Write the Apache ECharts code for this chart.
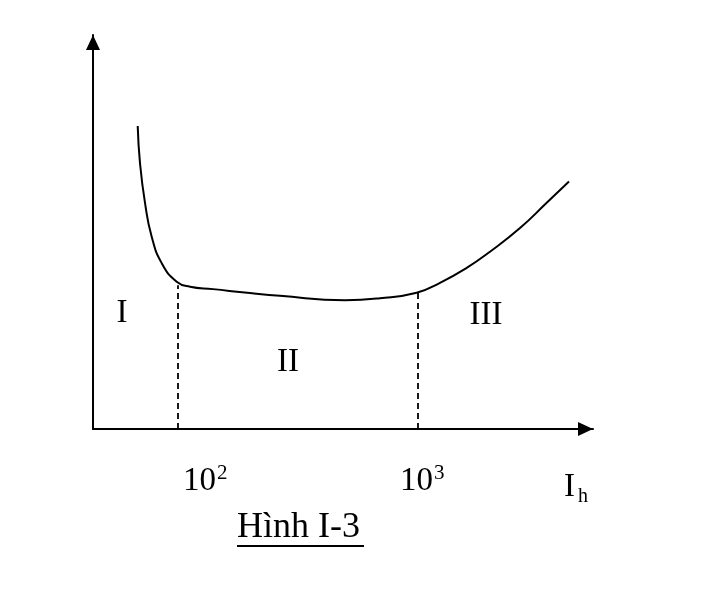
<!DOCTYPE html>
<html>
<head>
<meta charset="utf-8">
<script src="https://cdn.jsdelivr.net/npm/echarts@6/dist/echarts.min.js"></script>
<style>
  html, body { margin: 0; padding: 0; background: #fff; }
  #main { width: 705px; height: 591px; }
</style>
</head>
<body>
<div id="main"></div>
<script>
// curve (schematic units 0..100)
const curveX = [8.94, 9.40, 10.40, 11.74, 13.74, 16.74, 19.4, 24.0, 31.4, 37.4, 50.4, 57.4, 64.74, 69.4, 74.74, 79.4, 85.4, 90.74, 95.2]
const curveY = [76.9, 67.5, 57.4, 48.8, 42.1, 37.4, 36.1, 35.5, 34.5, 33.8, 32.7, 33.2, 34.6, 37.1, 40.9, 45.0, 51.0, 57.4, 62.8]
// dashed dividers between regions
const dividerX = [17.0, 65.0]
const dividerTop = [36.5, 34.5]
// texts
const regionNames = ['I', 'II', 'III']
const tickBase = ['10', '10']
const tickPow = ['2', '3']
const axisName = ['I', 'h']
const caption = 'Hình I-3'

const font = '"Liberation Serif", "DejaVu Serif", serif'

const curveData = curveX.map((x, i) => [x, curveY[i]])
const dividerSeries = dividerX.map((x, i) => ({
    type: 'line',
    data: [[x, 0], [x, dividerTop[i]]],
    symbol: 'none',
    silent: true,
    lineStyle: { color: '#000', width: 1.8, type: [6, 4] }
}))

const txt = (text, x, y, size, align) => ({
    type: 'text', x: x, y: y,
    style: { text: text, font: size + 'px ' + font, fill: '#000', align: align || 'left', verticalAlign: 'middle' }
})

const axisLine = {
    show: true,
    lineStyle: { color: '#000', width: 2 },
    symbol: ['none', 'triangle'],
    symbolSize: [14, 15],
    symbolOffset: [0, -7.5]
}

let myChart = echarts.init(document.getElementById('main'))
const option = {
    backgroundColor: '#fff',
    animation: false,
    grid: { left: 93, right: 112, top: 35, bottom: 162 },
    xAxis: {
        type: 'value', min: 0, max: 100,
        axisLine: axisLine,
        axisTick: { show: false }, axisLabel: { show: false }, splitLine: { show: false }
    },
    yAxis: {
        type: 'value', min: 0, max: 100,
        axisLine: axisLine,
        axisTick: { show: false }, axisLabel: { show: false }, splitLine: { show: false }
    },
    series: [
        {
            type: 'line',
            data: curveData,
            smooth: 0.5,
            symbol: 'none',
            silent: true,
            lineStyle: { color: '#000', width: 2 }
        },
        ...dividerSeries
    ],
    graphic: [
        txt(regionNames[0], 122, 313, 33, 'center'),
        txt(regionNames[1], 288, 362, 33, 'center'),
        txt(regionNames[2], 486, 315, 33, 'center'),
        txt(tickBase[0], 183, 481, 33),
        txt(tickPow[0], 217, 473, 21),
        txt(tickBase[1], 400, 481, 33),
        txt(tickPow[1], 434, 473, 21),
        txt(axisName[0], 564, 487, 33),
        txt(axisName[1], 578, 497, 20),
        txt(caption, 237, 528, 36),
        { type: 'line', shape: { x1: 237, y1: 546, x2: 364, y2: 546 }, style: { stroke: '#000', lineWidth: 2 } }
    ]
}
myChart.setOption(option)
</script>
</body>
</html>
